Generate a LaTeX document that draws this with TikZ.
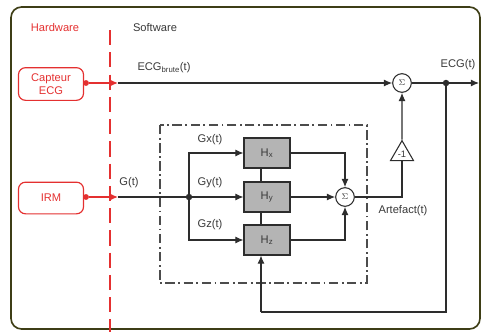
\documentclass[tikz,border=0pt]{standalone}
\usepackage{fontspec}
\setmainfont{Liberation Sans}
\usetikzlibrary{arrows.meta,shapes.geometric}

\definecolor{hwred}{RGB}{228,48,48}
\definecolor{wirec}{RGB}{45,45,45}
\definecolor{framec}{RGB}{62,62,22}
\definecolor{blockc}{RGB}{180,180,180}

\begin{document}
\begin{tikzpicture}[x=0.03cm,y=-0.03cm,
  font=\fontsize{9.5}{11}\selectfont, text=black!78,
  >={Latex[length=7pt,width=6pt]},
  wire/.style={draw=wirec,line width=0.9pt},
  hwline/.style={draw=hwred,line width=1pt,>={Latex[length=7pt,width=6pt,color=hwred]}},
  hwbox/.style={draw=hwred,line width=1pt,rounded corners=6pt,text=hwred,
    minimum width=1.95cm,minimum height=0.98cm,align=center},
  hblock/.style={draw=wirec,fill=blockc,line width=0.9pt,
    minimum width=1.38cm,minimum height=0.9cm},
  sumnode/.style={circle,draw=wirec,fill=white,line width=0.9pt,
    minimum size=0.56cm,inner sep=0pt,font=\fontsize{7}{8}\selectfont},
  dot/.style={circle,fill=wirec,minimum size=5.5pt,inner sep=0pt},
  reddot/.style={circle,fill=hwred,minimum size=5pt,inner sep=0pt}]
\useasboundingbox (0,0) rectangle (482,332);

% frame and hardware/software split
\draw[framec,line width=1.4pt,rounded corners=9pt] (11,7) rectangle (480,329);
\draw[hwred,line width=1.3pt,dash pattern=on 13pt off 6pt] (110,30) -- (110,332);
\node[text=hwred] (hwlabel) at (55,28) {Hardware};
\node (swlabel) at (155,28) {Software};

% sensors
\node[hwbox] (capteur) at (51,84) {Capteur\\ECG};
\node[hwbox,minimum height=0.95cm] (irm) at (51,198) {IRM};

% adaptive filter block
\draw[wirec!85,line width=1.1pt,dash pattern=on 8pt off 3pt on 1.5pt off 3pt]
  (160,125) rectangle (367,283);

\node[hblock] (hx) at (267,153) {H\textsubscript{x}};
\node[hblock] (hy) at (267,197) {H\textsubscript{y}};
\node[hblock] (hz) at (267,240) {H\textsubscript{z}};
\node[sumnode] (sumA) at (345,197) {$\Sigma$};
\node[sumnode] (sumB) at (402,83) {$\Sigma$};
\node[regular polygon,regular polygon sides=3,draw=wirec,line width=0.9pt,
  minimum size=0.8cm,inner sep=0pt,font=\fontsize{8}{9}\selectfont] (neg) at (402,154) {-1};

\node[dot] (junc) at (189,197) {};
\node[dot] (split) at (446,83) {};
\node[reddot] (capout) at (86,83) {};
\node[reddot] (irmout) at (86,197) {};

\coordinate (ecgin) at (118,83);
\coordinate (gin) at (118,197);
\coordinate (ecgout) at (479,83);
\coordinate (fbcorner) at (446,312);
\coordinate (fbbus) at (261,312);

% labels
\node (lbrute) at (164,68) {ECG\textsubscript{brute}(t)};
\node (lecg) at (458,65) {ECG(t)};
\node (lg) at (129,183) {G(t)};
\node (lgx) at (210,140) {Gx(t)};
\node (lgy) at (210,183) {Gy(t)};
\node (lgz) at (210,225) {Gz(t)};
\node (lart) at (403,211) {Artefact(t)};

% hardware links
\draw[hwline,->] (capout) -- (ecgin);
\draw[hwline,->] (irmout) -- (gin);

% signal paths
\draw[wire,->] (ecgin) -- (sumB);
\draw[wire,->] (sumB) -- (ecgout);
\draw[wire] (gin) -- (junc);
\draw[wire,->] (junc) -- (hy);
\draw[wire,->] (junc) |- (hx);
\draw[wire,->] (junc) |- (hz);
\draw[wire,->] (hx) -| (sumA);
\draw[wire,->] (hy) -- (sumA);
\draw[wire,->] (hz) -| (sumA);
\draw[wire] (sumA) -| (neg.south);
\draw[wire,->] (neg.north) -- (sumB);

% feedback to filters
\draw[wire] (split) -- (fbcorner) -- (fbbus);
\draw[wire,->] (fbbus) -- (fbbus |- hz.south);
\draw[wire] (hz.north -| fbbus) -- (hy.south -| fbbus);
\draw[wire] (hy.north -| fbbus) -- (hx.south -| fbbus);
\end{tikzpicture}
\end{document}
